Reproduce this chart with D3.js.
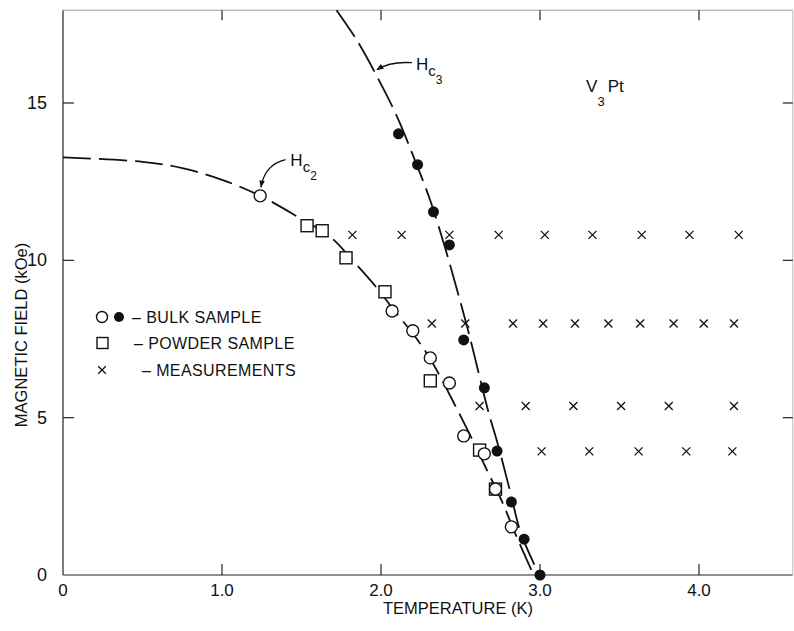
<!DOCTYPE html>
<html>
<head>
<meta charset="utf-8">
<script src="https://cdn.jsdelivr.net/npm/d3@7"></script>
<style>
  body { margin: 0; background: #fff; }
  svg { display: block; font-family: "Liberation Sans", Arial, sans-serif; }
  .frame { fill: none; stroke: #222; stroke-width: 1.2; }
  .tick { stroke: #222; stroke-width: 1.2; }
  .lbl { fill: #111; }
</style>
</head>
<body>
<svg id="chart" width="794" height="631"></svg>
<script>
// temperature (K), field (kOe)
const bulkOpen = [[1.24, 12.05], [2.07, 8.39], [2.2, 7.76], [2.31, 6.9], [2.43, 6.1],
  [2.52, 4.42], [2.65, 3.85], [2.72, 2.73], [2.82, 1.53]];
const bulkFilled = [[2.11, 14.02], [2.23, 13.04], [2.33, 11.54], [2.43, 10.49], [2.52, 7.47],
  [2.65, 5.95], [2.73, 3.94], [2.82, 2.32], [2.9, 1.14], [3.0, 0]];
const powder = [[1.535, 11.1], [1.63, 10.94], [1.78, 10.08], [2.025, 9.0], [2.31, 6.17],
  [2.62, 3.97], [2.72, 2.73]];
const measureRows = [
  { h: 10.81, t: [1.82, 2.13, 2.43, 2.74, 3.03, 3.33, 3.64, 3.94, 4.25] },
  { h: 7.99, t: [2.32, 2.53, 2.83, 3.02, 3.22, 3.43, 3.63, 3.84, 4.03, 4.22] },
  { h: 5.37, t: [2.62, 2.91, 3.21, 3.51, 3.81, 4.22] },
  { h: 3.93, t: [3.01, 3.31, 3.62, 3.92, 4.21] }
];
const hc2Curve = [[0, 13.27], [0.5, 13.13], [0.75, 12.93], [1.0, 12.56], [1.24, 12.05],
  [1.48, 11.37], [1.68, 10.75], [1.83, 9.95], [1.95, 9.27], [2.08, 8.43], [2.24, 7.4],
  [2.34, 6.6], [2.46, 5.45], [2.56, 4.45], [2.66, 3.4], [2.76, 2.35], [2.85, 1.25], [2.96, 0]];
const hc3Curve = [[1.72, 17.95], [1.85, 16.98], [2.0, 15.6], [2.105, 14.52], [2.2, 13.35],
  [2.31, 11.9], [2.41, 10.28], [2.49, 8.85], [2.555, 7.63], [2.62, 6.3], [2.68, 5.1],
  [2.733, 4.19], [2.81, 2.7], [2.88, 1.33], [2.995, 0]];
const xTicks = [1, 2, 3, 4];
const xTickLabels = ["1.0", "2.0", "3.0", "4.0"];
const yTicks = [5, 10, 15];
const yTickLabels = ["5", "10", "15"];
const legendItems = ["BULK SAMPLE", "POWDER SAMPLE", "MEASUREMENTS"];

const svg = d3.select("#chart");
const x = d3.scaleLinear().domain([0, 4]).range([63, 699]);
const y = d3.scaleLinear().domain([0, 15]).range([575, 103]);
const xMax = 4.59, yMax = 17.95;

const defs = svg.append("defs");
defs.append("marker")
  .attr("id", "arrow")
  .attr("viewBox", "0 0 10 10")
  .attr("refX", 9).attr("refY", 5)
  .attr("markerWidth", 9).attr("markerHeight", 7)
  .attr("markerUnits", "userSpaceOnUse")
  .attr("orient", "auto")
  .append("path").attr("d", "M0,1 L10,5 L0,9 Z").attr("fill", "#111");

// frame: left + bottom strong, top + right faint like the scan
const axes = svg.append("g");
axes.append("line").attr("class", "tick")
  .attr("x1", x(0)).attr("x2", x(0)).attr("y1", y(yMax)).attr("y2", y(0));
axes.append("line").attr("class", "tick")
  .attr("x1", x(0)).attr("x2", x(xMax)).attr("y1", y(0)).attr("y2", y(0));
axes.append("line").attr("stroke", "#999").attr("stroke-width", 1)
  .attr("x1", x(0)).attr("x2", x(xMax)).attr("y1", y(yMax)).attr("y2", y(yMax));
axes.append("line").attr("stroke", "#bbb").attr("stroke-width", 1)
  .attr("x1", x(xMax)).attr("x2", x(xMax)).attr("y1", y(yMax)).attr("y2", y(0));

axes.selectAll("line.xb").data(xTicks).join("line").attr("class", "tick xb")
  .attr("x1", (d) => x(d)).attr("x2", (d) => x(d)).attr("y1", y(0)).attr("y2", y(0) - 11);
axes.selectAll("line.xt").data(xTicks).join("line").attr("class", "tick xt")
  .attr("stroke", "#888")
  .attr("x1", (d) => x(d)).attr("x2", (d) => x(d)).attr("y1", y(yMax)).attr("y2", y(yMax) + 10);
axes.selectAll("line.yl").data(yTicks).join("line").attr("class", "tick yl")
  .attr("x1", x(0)).attr("x2", x(0) + 11).attr("y1", (d) => y(d)).attr("y2", (d) => y(d));
axes.selectAll("line.yr").data(yTicks).join("line").attr("class", "tick yr")
  .attr("x1", x(xMax)).attr("x2", x(xMax) - 10).attr("y1", (d) => y(d)).attr("y2", (d) => y(d));

axes.selectAll("text.xl").data(["0", ...xTickLabels]).join("text").attr("class", "lbl xl")
  .attr("x", (d, i) => x(i)).attr("y", y(0) + 21)
  .attr("text-anchor", "middle").attr("font-size", 17).text((d) => d);
axes.selectAll("text.yl").data(["0", ...yTickLabels]).join("text").attr("class", "lbl yl")
  .attr("x", x(0) - 16).attr("y", (d, i) => y(i * 5) + 6)
  .attr("text-anchor", "end").attr("font-size", 18).text((d) => d);

svg.append("text").attr("class", "lbl")
  .attr("x", 458).attr("y", 614).attr("text-anchor", "middle")
  .attr("font-size", 16.5).text("TEMPERATURE (K)");
svg.append("text").attr("class", "lbl")
  .attr("transform", `translate(27,${335}) rotate(-90)`).attr("text-anchor", "middle")
  .attr("font-size", 16.5).text("MAGNETIC FIELD (kOe)");

// critical field curves
const line = d3.line().x((d) => x(d[0])).y((d) => y(d[1])).curve(d3.curveCatmullRom.alpha(0.5));
svg.append("path").attr("d", line(hc2Curve))
  .attr("fill", "none").attr("stroke", "#111").attr("stroke-width", 1.8)
  .attr("stroke-dasharray", "28,8");
svg.append("path").attr("d", line(hc3Curve))
  .attr("fill", "none").attr("stroke", "#111").attr("stroke-width", 1.8)
  .attr("stroke-dasharray", "32,8");

// markers
const marks = svg.append("g");
marks.selectAll("rect").data(powder).join("rect")
  .attr("x", (d) => x(d[0]) - 6).attr("y", (d) => y(d[1]) - 6)
  .attr("width", 12).attr("height", 12)
  .attr("fill", "#fff").attr("stroke", "#111").attr("stroke-width", 1.4);
marks.selectAll("circle.open").data(bulkOpen).join("circle").attr("class", "open")
  .attr("cx", (d) => x(d[0])).attr("cy", (d) => y(d[1])).attr("r", 6)
  .attr("fill", "#fff").attr("stroke", "#111").attr("stroke-width", 1.4);
marks.selectAll("circle.full").data(bulkFilled).join("circle").attr("class", "full")
  .attr("cx", (d) => x(d[0])).attr("cy", (d) => y(d[1])).attr("r", 5.5)
  .attr("fill", "#111");

const crosses = measureRows.flatMap((row) => row.t.map((t) => [t, row.h]));
const crossPath = (cx, cy, s) => `M${cx - s},${cy - s}L${cx + s},${cy + s}M${cx - s},${cy + s}L${cx + s},${cy - s}`;
marks.selectAll("path.cross").data(crosses).join("path").attr("class", "cross")
  .attr("d", (d) => crossPath(x(d[0]), y(d[1]), 4))
  .attr("stroke", "#111").attr("stroke-width", 1.3);

// legend
const lg = svg.append("g");
const legY = [317, 343, 370];
lg.append("circle").attr("cx", 102).attr("cy", legY[0]).attr("r", 5.5)
  .attr("fill", "#fff").attr("stroke", "#111").attr("stroke-width", 1.4);
lg.append("circle").attr("cx", 119).attr("cy", legY[0]).attr("r", 5).attr("fill", "#111");
lg.append("rect").attr("x", 97).attr("y", legY[1] - 5.5).attr("width", 11).attr("height", 11)
  .attr("fill", "#fff").attr("stroke", "#111").attr("stroke-width", 1.4);
lg.append("path").attr("d", crossPath(102, legY[2], 3.8)).attr("stroke", "#111").attr("stroke-width", 1.3);
const legX = [132, 134, 142];
lg.selectAll("text").data(legendItems).join("text").attr("class", "lbl")
  .attr("x", (d, i) => legX[i]).attr("y", (d, i) => legY[i] + 6)
  .attr("font-size", 16).attr("letter-spacing", 0.4)
  .text((d) => "– " + d);

// annotations
function subLabel(t, h, sub, sub2) {
  const g = svg.append("text").attr("class", "lbl").attr("x", x(t)).attr("y", y(h)).attr("font-size", 17);
  g.append("tspan").text("H");
  g.append("tspan").attr("font-size", 15).attr("dy", 6).text(sub);
  g.append("tspan").attr("font-size", 12).attr("dy", 8).text(sub2);
}
subLabel(1.43, 13.0, "c", "2");
subLabel(2.22, 16.06, "c", "3");

const v3 = svg.append("text").attr("class", "lbl").attr("x", x(3.29)).attr("y", y(15.36)).attr("font-size", 17);
v3.append("tspan").text("V");
v3.append("tspan").attr("font-size", 13).attr("dy", 14).text("3");
v3.append("tspan").attr("dy", -14).attr("dx", 3).text("Pt");

const arrowPath = (a, c, b) => `M${x(a[0])},${y(a[1])}Q${x(c[0])},${y(c[1])} ${x(b[0])},${y(b[1])}`;
svg.append("path").attr("d", arrowPath([1.40, 13.2], [1.27, 13.05], [1.245, 12.33]))
  .attr("fill", "none").attr("stroke", "#111").attr("stroke-width", 1.3)
  .attr("marker-end", "url(#arrow)");
svg.append("path").attr("d", arrowPath([2.195, 16.28], [2.06, 16.33], [1.975, 16.06]))
  .attr("fill", "none").attr("stroke", "#111").attr("stroke-width", 1.3)
  .attr("marker-end", "url(#arrow)");
</script>
</body>
</html>
